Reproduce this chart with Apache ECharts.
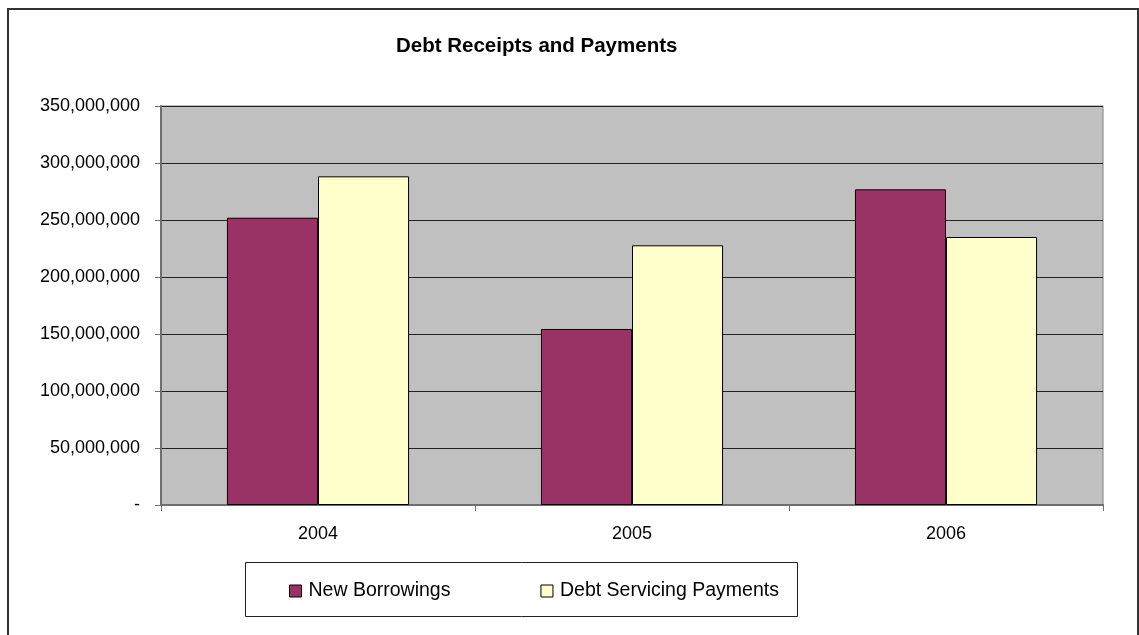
<!DOCTYPE html>
<html>
<head>
<meta charset="utf-8">
<title>Debt Receipts and Payments</title>
<script src="https://cdn.jsdelivr.net/npm/echarts@6/dist/echarts.min.js"></script>
<style>
  html, body { margin: 0; padding: 0; background: #ffffff; }
  #chart { width: 1139px; height: 635px; }
</style>
</head>
<body>
<div id="chart"></div>
<script>
// Years on the category axis
const years = ['2004', '2005', '2006'];
// Amounts received from new borrowings per year
const newBorrowings = [252000000, 154400000, 276900000];
// Amounts paid to service debt per year
const debtServicingPayments = [288300000, 227800000, 235100000];
// Value axis range and step
const yMin = 0;
const yMax = 350000000;
const yStep = 50000000;

const FONT = '"Liberation Sans", Arial, sans-serif';

function formatAmount(v) {
  if (v === 0) return '-';
  return String(v).replace(/\B(?=(\d{3})+(?!\d))/g, ',');
}

const chart = echarts.init(document.getElementById('chart'), null, { renderer: 'canvas' });

chart.setOption({
  animation: false,
  backgroundColor: '#ffffff',
  textStyle: { fontFamily: FONT, color: '#000000' },
  title: {
    text: 'Debt Receipts and Payments',
    left: 396,
    top: 36,
    padding: 0,
    textStyle: { fontFamily: FONT, fontSize: 20.5, fontWeight: 'bold', color: '#000000' }
  },
  graphic: [
    {
      type: 'rect',
      silent: true,
      z: 100,
      shape: { x: 8, y: 9, width: 1130, height: 640 },
      style: { fill: 'none', stroke: '#333333', lineWidth: 2 }
    },
    {
      type: 'rect',
      silent: true,
      z: 0,
      shape: { x: 245.5, y: 562.5, width: 552, height: 54 },
      style: { fill: '#ffffff', stroke: '#222222', lineWidth: 1 }
    }
  ],
  legend: {
    left: 289,
    top: 581,
    padding: 0,
    itemWidth: 12,
    itemHeight: 12,
    itemGap: 90,
    icon: 'rect',
    itemStyle: { borderColor: '#000000', borderWidth: 1 },
    textStyle: { fontFamily: FONT, fontSize: 19.5, color: '#000000', padding: [0, 0, 0, 2] },
    data: ['New Borrowings', 'Debt Servicing Payments']
  },
  grid: {
    left: 161,
    top: 106,
    right: 36,
    bottom: 130,
    containLabel: false,
    show: true,
    backgroundColor: '#C0C0C0',
    borderColor: '#808080',
    borderWidth: 1
  },
  xAxis: {
    type: 'category',
    data: years,
    boundaryGap: true,
    axisLine: { show: true, lineStyle: { color: '#6e6e6e', width: 2 } },
    axisTick: { show: true, alignWithLabel: false, length: 6, lineStyle: { color: '#6e6e6e', width: 1 } },
    axisLabel: { margin: 20, fontFamily: FONT, fontSize: 18, color: '#000000' },
    splitLine: { show: false }
  },
  yAxis: {
    type: 'value',
    min: yMin,
    max: yMax,
    interval: yStep,
    axisLine: { show: true, lineStyle: { color: '#6e6e6e', width: 2 } },
    axisTick: { show: true, inside: false, length: 6, lineStyle: { color: '#6e6e6e', width: 1 } },
    axisLabel: { margin: 21, fontFamily: FONT, fontSize: 18, color: '#000000', formatter: formatAmount },
    splitLine: { show: true, lineStyle: { color: '#222222', width: 1 } }
  },
  series: [
    {
      name: 'New Borrowings',
      type: 'bar',
      data: newBorrowings,
      barGap: '0%',
      barCategoryGap: '42%',
      itemStyle: { color: '#993366', borderColor: '#000000', borderWidth: 1 }
    },
    {
      name: 'Debt Servicing Payments',
      type: 'bar',
      data: debtServicingPayments,
      barGap: '0%',
      barCategoryGap: '42%',
      itemStyle: { color: '#FFFFCC', borderColor: '#000000', borderWidth: 1 }
    }
  ]
});
</script>
</body>
</html>
